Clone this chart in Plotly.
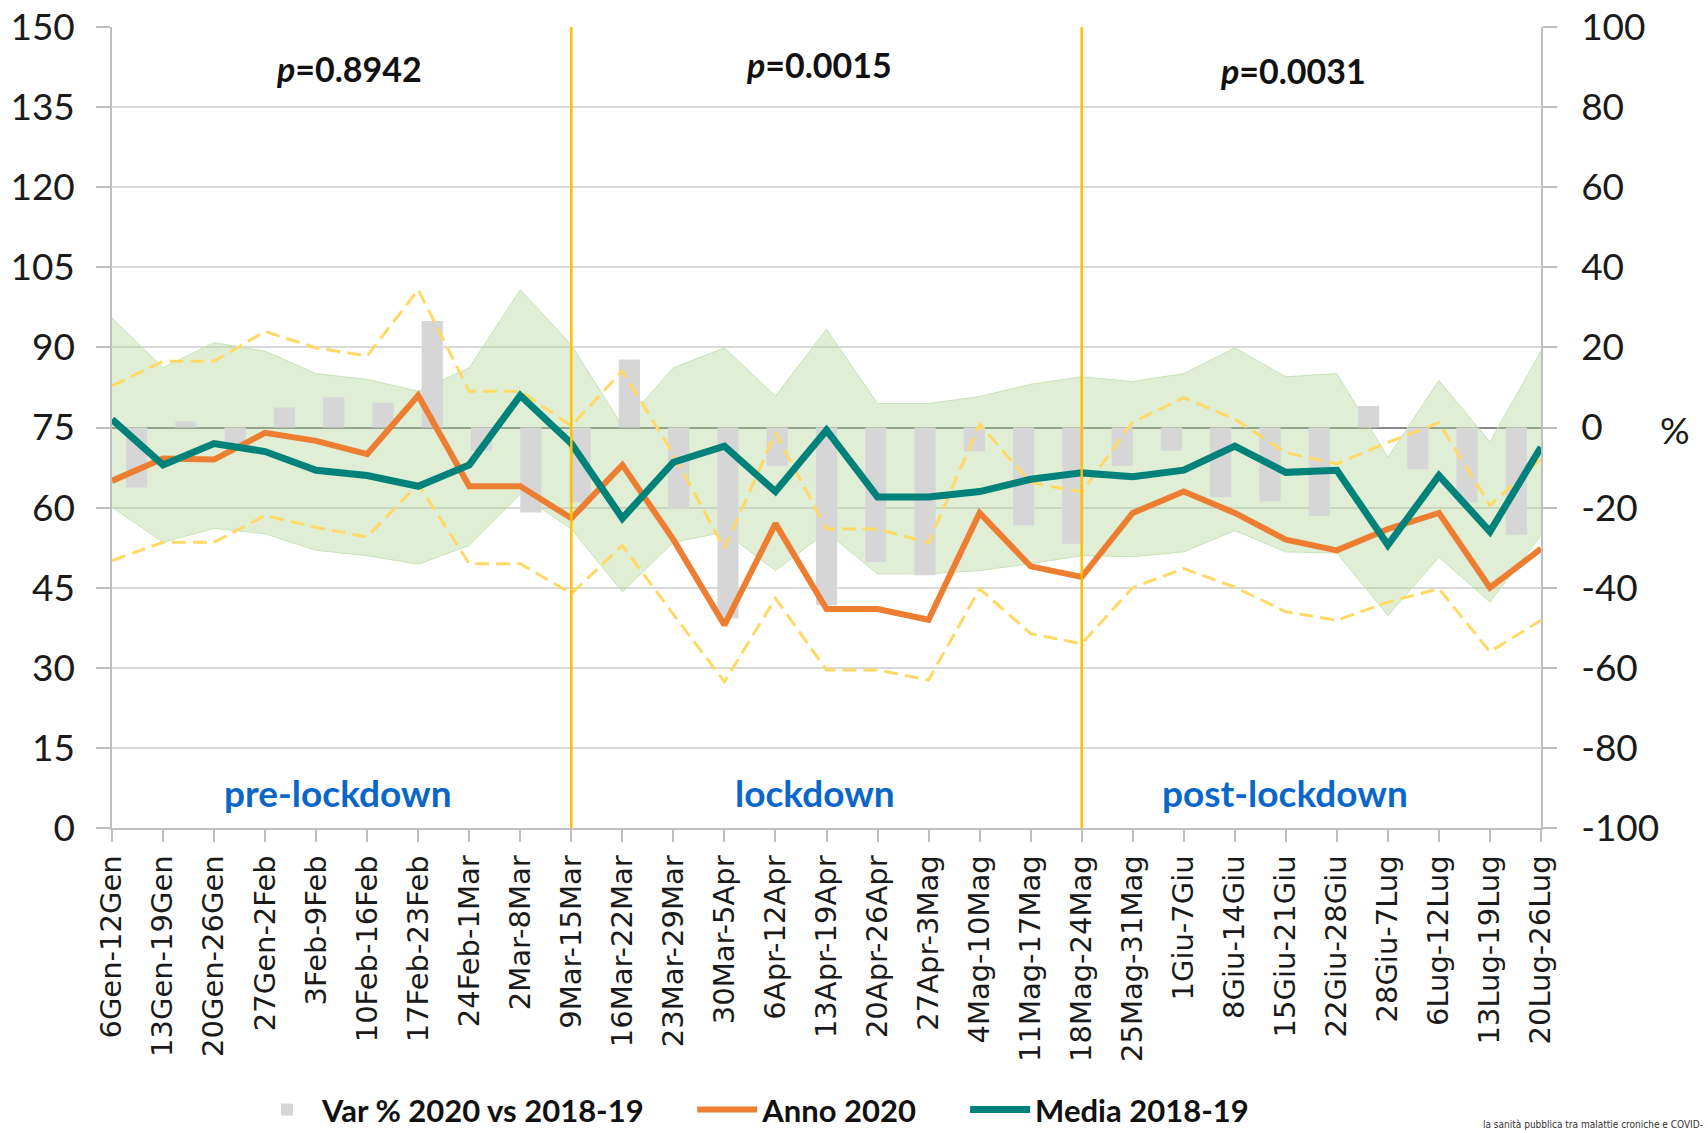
import plotly.graph_objects as go

categories = ["6Gen-12Gen", "13Gen-19Gen", "20Gen-26Gen", "27Gen-2Feb", "3Feb-9Feb",
              "10Feb-16Feb", "17Feb-23Feb", "24Feb-1Mar", "2Mar-8Mar", "9Mar-15Mar",
              "16Mar-22Mar", "23Mar-29Mar", "30Mar-5Apr", "6Apr-12Apr", "13Apr-19Apr",
              "20Apr-26Apr", "27Apr-3Mag", "4Mag-10Mag", "11Mag-17Mag", "18Mag-24Mag",
              "25Mag-31Mag", "1Giu-7Giu", "8Giu-14Giu", "15Giu-21Giu", "22Giu-28Giu",
              "28Giu-7Lug", "6Lug-12Lug", "13Lug-19Lug", "20Lug-26Lug"]

media_2018_19 = [76.5, 68, 72, 70.5, 67, 66, 64, 68, 81, 72, 58, 68.5, 71.5, 63, 74.5,
                 62, 62, 63, 65.3, 66.5, 65.8, 67, 71.5, 66.6, 67, 53, 66, 55.5, 71.3]
anno_2020 = [65, 69.2, 69, 74, 72.5, 70, 81, 64, 64, 58, 68, 54, 38, 57, 41,
             41, 39, 59, 49, 47, 59, 63, 59, 54, 52, 56, 59, 45, 52.3]
band_upper = [95.5, 86.2, 90.9, 89.3, 85.1, 84, 81.8, 86.2, 100.8, 90.5, 75.3, 86.2, 89.9, 80.9, 93.4,
              79.5, 79.5, 80.8, 83.1, 84.5, 83.6, 85.1, 89.9, 84.5, 85.1, 69.4, 83.8, 72.3, 89.3]
band_lower = [60.1, 53.5, 56.1, 55.1, 52, 51, 49.4, 52.9, 62.5, 56, 44.2, 53.5, 55.4, 48.2, 55.4,
              47.6, 47.6, 48.2, 49.5, 51, 50.8, 51.7, 55.7, 51.7, 51.5, 39.8, 50.7, 42.3, 54.8]
dash_upper = [82.8, 87.4, 87.4, 93, 89.9, 88.4, 100.8, 81.8, 81.8, 75.3, 85.6, 70, 52.3, 74, 56,
              56, 53.4, 75.6, 64.7, 62.9, 76, 80.6, 76.6, 70.3, 68.2, 72.2, 75.9, 60.4, 69.1]
dash_lower = [50.1, 53.5, 53.5, 58.5, 56.3, 54.5, 64.4, 49.5, 49.5, 43.9, 52.9, 40, 27.4, 43, 29.6,
              29.6, 27.7, 44.8, 36.4, 34.5, 45, 48.6, 45.1, 40.5, 38.9, 42.3, 44.8, 33, 38.9]
var_pct = [-15, 1.5, -4, 5, 7.5, 6.2, 26.6, -5.8, -21.2, -18.7, 17, -20.3, -47.7, -9.6, -44.4,
           -33.6, -36.9, -6, -24.5, -29, -9.6, -5.8, -17.4, -18.5, -22.1, 5.4, -10.4, -18.7, -26.8]

left_ticks = [0, 15, 30, 45, 60, 75, 90, 105, 120, 135, 150]
right_ticks = [-100, -80, -60, -40, -20, 0, 20, 40, 60, 80, 100]
phase_breaks = ["9Mar-15Mar", "18Mag-24Mag"]
p_values = ["0.8942", "0.0015", "0.0031"]
phases = ["pre-lockdown", "lockdown", "post-lockdown"]

idx = list(range(len(categories)))

fig = go.Figure()

# green band (base subplot)
fig.add_trace(go.Scatter(x=idx, y=band_lower, mode="lines",
                         line=dict(color="#c9e2b8", width=1), showlegend=False,
                         hoverinfo="skip", xaxis="x", yaxis="y"))
fig.add_trace(go.Scatter(x=idx, y=band_upper, mode="lines", fill="tonexty",
                         fillcolor="rgba(169,209,142,0.37)",
                         line=dict(color="#c9e2b8", width=1), showlegend=False,
                         hoverinfo="skip", xaxis="x", yaxis="y"))

# bars (overlay subplot 2)
fig.add_trace(go.Bar(x=idx, y=var_pct, name="Var % 2020 vs 2018-19",
                     marker=dict(color="#d6d6d6", line=dict(width=0)),
                     width=0.43, xaxis="x2", yaxis="y2", legend="legend"))

# lines (overlay subplot 3)
fig.add_trace(go.Scatter(x=idx, y=dash_upper, mode="lines", showlegend=False,
                         line=dict(color="#ffd966", width=3, dash="14px,7px"),
                         xaxis="x3", yaxis="y3"))
fig.add_trace(go.Scatter(x=idx, y=dash_lower, mode="lines", showlegend=False,
                         line=dict(color="#ffd966", width=3, dash="14px,7px"),
                         xaxis="x3", yaxis="y3"))
fig.add_trace(go.Scatter(x=idx, y=anno_2020, mode="lines", name="Anno 2020",
                         line=dict(color="#ed7d31", width=6),
                         xaxis="x3", yaxis="y3", legend="legend2"))
fig.add_trace(go.Scatter(x=idx, y=media_2018_19, mode="lines", name="Media 2018-19",
                         line=dict(color="#00827a", width=7),
                         xaxis="x3", yaxis="y3", legend="legend3"))

axis_col = "#bfbfbf"
tick_font = dict(family="Lato", size=37, color="#1a1a1a")
legend_font = dict(family="Lato", size=31, color="#111111", weight="bold")


def legend_box(xpos):
    return dict(orientation="h", x=xpos, xanchor="left", y=-0.352, yanchor="middle",
                font=legend_font, itemwidth=60, bgcolor="rgba(0,0,0,0)")


fig.update_layout(
    width=1708, height=1133, autosize=False,
    margin=dict(l=112, r=167, t=27, b=305, autoexpand=False),
    paper_bgcolor="white", plot_bgcolor="white",
    xaxis=dict(domain=[0, 1], range=[0, len(categories) - 1], tickmode="array",
               tickvals=idx, ticktext=categories, tickangle=-90,
               tickfont=dict(family="DejaVu Sans", size=29, color="#1a1a1a"),
               showgrid=False, zeroline=False, showline=True, linecolor=axis_col,
               linewidth=1.5, ticks="outside", ticklen=12, tickcolor=axis_col,
               tickwidth=1.5, ticklabelstandoff=2, ticklabeloverflow="allow",
               fixedrange=True),
    yaxis=dict(range=[0, 150], tickmode="array", tickvals=left_ticks,
               tickfont=tick_font, showgrid=True, gridcolor="#d9d9d9", gridwidth=1.5,
               zeroline=False, showline=True, linecolor=axis_col, linewidth=1.5,
               ticks="outside", ticklen=14, tickcolor=axis_col, tickwidth=1.5,
               ticklabelstandoff=14, ticklabeloverflow="allow"),
    xaxis2=dict(overlaying="x", range=[-0.5, len(categories) - 0.5], visible=False),
    yaxis2=dict(overlaying="y", side="right", anchor="x2", range=[-100, 100],
                tickmode="array", tickvals=right_ticks,
                ticktext=[str(v) for v in right_ticks], tickfont=tick_font,
                showgrid=False, zeroline=True, zerolinecolor="#8a8a8a", zerolinewidth=1.5,
                showline=True, linecolor=axis_col, linewidth=1.5, ticks="outside",
                ticklen=14, tickcolor=axis_col, tickwidth=1.5, ticklabelstandoff=17,
                ticklabeloverflow="allow"),
    xaxis3=dict(overlaying="x", range=[0, len(categories) - 1], visible=False),
    yaxis3=dict(overlaying="y", range=[0, 150], visible=False),
    legend=legend_box(0.098),
    legend2=legend_box(0.406),
    legend3=legend_box(0.597),
    showlegend=True,
)

# phase break vertical lines
for b in phase_breaks:
    xi = categories.index(b)
    fig.add_shape(type="line", xref="x", yref="y", x0=xi, x1=xi, y0=0, y1=150,
                  line=dict(color="#ffc000", width=2.5), layer="above")

# annotations
p_pos = [(4.64, 142.2), (13.85, 142.9), (23.14, 141.8)]
for (px, py), pv in zip(p_pos, p_values):
    fig.add_annotation(x=px, y=py, xref="x", yref="y", showarrow=False,
                       text="<b><i>p</i>=" + pv + "</b>",
                       font=dict(family="Lato", size=34, color="#111111"))
ph_pos = [4.43, 13.77, 22.99]
for px, ph in zip(ph_pos, phases):
    fig.add_annotation(x=px, y=6.7, xref="x", yref="y", showarrow=False,
                       text="<b>" + ph + "</b>",
                       font=dict(family="Lato", size=37, color="#0a66c8"))

fig.add_annotation(x=1.106, y=0.497, xref="paper", yref="paper", showarrow=False,
                   text="%", font=tick_font)
fig.add_annotation(x=1.115, y=-0.379, xref="paper", yref="paper", showarrow=False,
                   xanchor="right", yanchor="bottom",
                   text="la sanità pubblica tra malattie croniche e COVID-",
                   font=dict(family="DejaVu Sans Condensed", size=10, color="#333333"))

# remove the browser's default 8px body margin so the figure fills the window exactly
fig.write_html("out.html", config={"displayModeBar": False},
               post_script="document.body.style.margin='0px';")
